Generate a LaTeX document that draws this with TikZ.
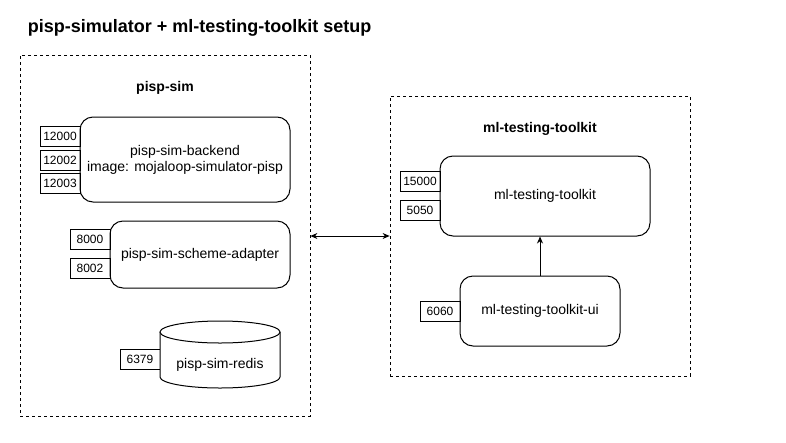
\documentclass[tikz,border=0pt]{standalone}
\usepackage{fontspec}
\setmainfont{Liberation Sans}
\usetikzlibrary{arrows.meta}
\begin{document}
\begin{tikzpicture}[x=1pt,y=-1pt,line width=1pt,
  container/.style={draw,dash pattern=on 3pt off 3pt,line width=0.8pt},
  svc/.style={draw,rounded corners=13pt,font=\fontsize{14}{16}\selectfont,align=center,inner sep=0pt},
  port/.style={draw,fill=white,font=\fontsize{12}{14}\selectfont,inner sep=0pt,minimum width=40pt,minimum height=20pt},
  lbl/.style={font=\bfseries\fontsize{14}{16}\selectfont},
  arr/.style={-{Stealth[length=7pt,width=6pt]},line width=0.8pt}]
\useasboundingbox (0,0) rectangle (786,442);
\node[font=\bfseries\fontsize{18}{20}\selectfont,anchor=west] (title) at (24,28) {pisp-simulator + ml-testing-toolkit setup};
% left container
\node[container,minimum width=290pt,minimum height=361pt,inner sep=0pt] (left) at (165,235.5) {};
\node[lbl] (leftlbl) at (165,88) {pisp-sim};
% backend
\node[port] (p12000) at (60,136) {12000};
\node[port] (p12002) at (60,160) {12002};
\node[port] (p12003) at (60,183.5) {12003};
\node[svc,minimum width=210pt,minimum height=85pt] (backend) at (185,159.5) {pisp-sim-backend\\image: mojaloop-simulator-pisp};
% scheme adapter
\node[port] (p8000) at (90,239.5) {8000};
\node[port] (p8002) at (90,268.5) {8002};
\node[svc,minimum width=180pt,minimum height=67pt] (adapter) at (200,254.5) {pisp-sim-scheme-adapter};
% redis
\node[port] (p6379) at (140,359.5) {6379};
\draw[fill=white] (160,332) -- (160,377) arc[start angle=180,end angle=0,x radius=60,y radius=11] -- (280,332);
\draw[fill=white] (220,332) ellipse[x radius=60,y radius=11];
\node[font=\fontsize{14}{16}\selectfont] (redis) at (220,365) {pisp-sim-redis};
% right container
\node[container,minimum width=300pt,minimum height=280pt,inner sep=0pt] (right) at (540,236) {};
\node[lbl] (rightlbl) at (540,129) {ml-testing-toolkit};
\node[port] (p15000) at (420,181.5) {15000};
\node[port] (p5050) at (420,210.5) {5050};
\node[svc,minimum width=210pt,minimum height=80pt] (mlt) at (545,196) {ml-testing-toolkit};
\node[port] (p6060) at (440,311.5) {6060};
\node[svc,minimum width=160pt,minimum height=70pt] (ui) at (540,311) {ml-testing-toolkit-ui};
% connectors
\draw[arr] (ui.north) -- (ui.north |- mlt.south);
\draw[{Stealth[length=7pt,width=6pt]}-{Stealth[length=7pt,width=6pt]},line width=0.8pt] (left.east |- 0,236) -- (right.west |- 0,236);
\end{tikzpicture}
\end{document}
